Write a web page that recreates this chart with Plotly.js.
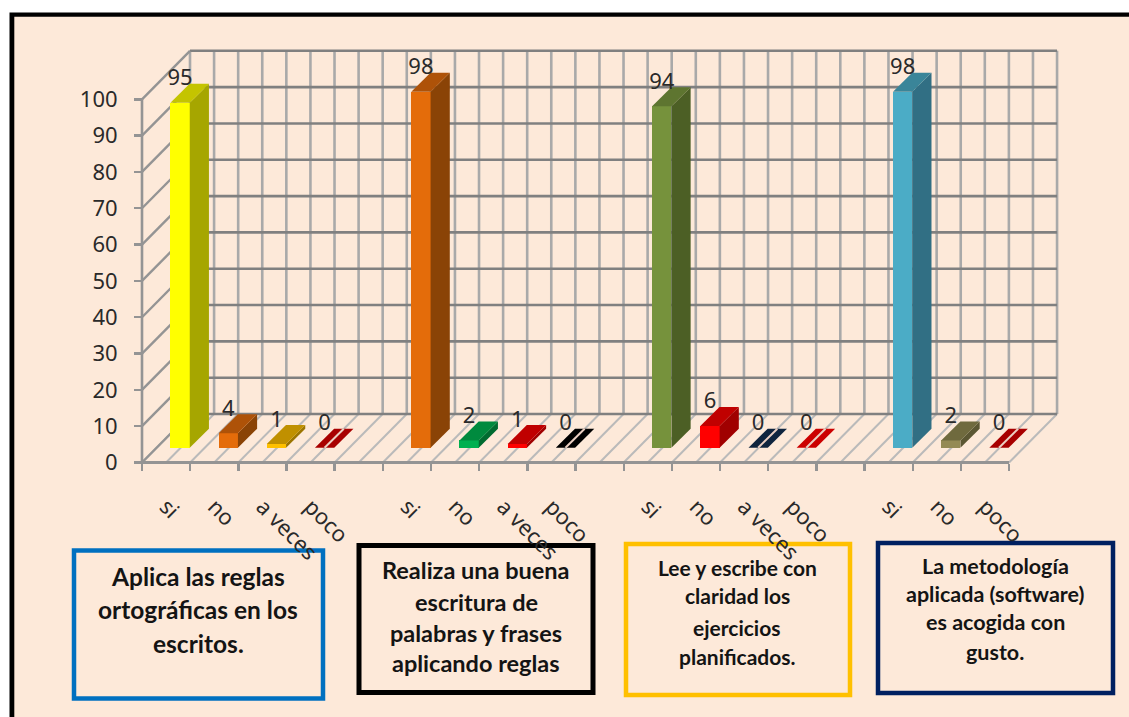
<!DOCTYPE html>
<html>
<head>
<meta charset="utf-8">
<script src="https://cdn.plot.ly/plotly-3.0.1.min.js"></script>
<style>html,body{margin:0;padding:0;background:#fff;overflow:hidden}#chart{width:1129px;height:717px}</style>
</head>
<body>
<div id="chart"></div>
<script>
// ---- data ----
const categories = ['si','no','a veces','poco','', 'si','no','a veces','poco','', 'si','no','a veces','poco','', 'si','no','poco'];
const values     = [95,4,1,0,null, 98,2,1,0,null, 94,6,0,0,null, 98,2,0];
const frontColors= ['#FFFF00','#E46C0A','#FFC000','#C00000',null,'#E46C0A','#00B050','#FF0000','#000000',null,'#76923C','#FF0000','#0F243E','#E00000',null,'#4BACC6','#948A54','#C00000'];
const topColors  = ['#C4C400','#AE5208','#C09000','#A80000',null,'#AE5208','#008A3E','#C00000','#000000',null,'#5E7530','#C00000','#0F243E','#CC0000',null,'#3A8599','#6F6A3E','#A80000'];
const sideColors = ['#A6A600','#8A4306','#9C7500','#900000',null,'#8A4306','#006B30','#A00000','#000000',null,'#4C5F25','#A00000','#0A1A2E','#A00000',null,'#316F84','#5B5733','#900000'];
const yTicks = [0,10,20,30,40,50,60,70,80,90,100];

const boxes = [
  {color:'#0070C0', w:4.5, x0:74,  x1:323,  y0:550.5, y1:698.5},
  {color:'#000000', w:5,   x0:359, x1:593,  y0:545.5, y1:692.5},
  {color:'#FFC000', w:4.5, x0:626, x1:850,  y0:544,   y1:695},
  {color:'#002060', w:4.5, x0:878, x1:1113, y0:543,   y1:693}
];
const boxLines = [
  {cx:198, size:24.5, lines:[['Aplica las reglas',576],['ortográficas en los',609],['escritos.',643]]},
  {cx:476, size:23.5, lines:[['Realiza una buena',570],['escritura de',602],['palabras y frases',633],['aplicando reglas',663]]},
  {cx:737, size:21,   lines:[['Lee y escribe con',567.5],['claridad los',595.5],['ejercicios',627.5],['planificados.',656.5]]},
  {cx:995, size:21.5, lines:[['La metodología',566],['aplicada (software)',594],['es acogida con',622],['gusto.',652]]}
];

// ---- layout geometry ----
const W=1129, H=717;
const originX=142, originY=462.5, catPx=48.17, unitPx=3.632;
const GRID_H='#808080', GRID_V='#A9A9A9', GRID_F='#BABABA', AXIS='#949494';
const NUM_FONT='Noto Sans';
const wallDX=48/catPx, wallDY=48.5/unitPx;     // wall depth, in axis units
const barDX=14/catPx, barDY=14.8/unitPx;       // bar front plane offset
const faceDX=19.2/catPx, faceDY=19/unitPx;     // bar depth
const barW=19.3/catPx;
const nCat=categories.length;
const px=v=>v/W, py=v=>1-v/H;

const shapes=[];
const seg=(x0,y0,x1,y1,color,width)=>shapes.push({type:'line',xref:'x',yref:'y',x0,y0,x1,y1,layer:'below',line:{color,width}});
// page frame
shapes.push({type:'rect',xref:'paper',yref:'paper',x0:px(9.5),x1:1,y0:0,y1:py(12.5),fillcolor:'#000',line:{width:0},layer:'below'});
shapes.push({type:'rect',xref:'paper',yref:'paper',x0:px(14.3),x1:1,y0:0,y1:py(16.7),fillcolor:'#FDE9D9',line:{width:0},layer:'below'});
// floor
for(let k=0;k<=nCat*2;k++){ seg(k/2,0,k/2+wallDX,wallDY,GRID_F,2); }
// back wall
for(let k=0;k<=nCat*2;k++){ seg(k/2+wallDX,wallDY,k/2+wallDX,100+wallDY,GRID_V,2.6); }
yTicks.forEach(t=>{
  seg(wallDX,t+wallDY,nCat+wallDX,t+wallDY,GRID_H,2.6);
  seg(0,t,wallDX,t+wallDY,AXIS,2.4);
});
seg(0,0,0,100,AXIS,2.6);
seg(0,0,nCat,0,AXIS,2.8);
// text boxes
boxes.forEach(b=>shapes.push({type:'rect',xref:'paper',yref:'paper',x0:px(b.x0),x1:px(b.x1),y0:py(b.y1),y1:py(b.y0),line:{color:b.color,width:b.w},fillcolor:'rgba(0,0,0,0)',layer:'below'}));

const annotations=[];
boxLines.forEach(b=>b.lines.forEach(([t,y])=>annotations.push({xref:'paper',yref:'paper',x:px(b.cx),y:py(y),xanchor:'center',yanchor:'middle',showarrow:false,text:t,font:{family:'Lato, Carlito, sans-serif',size:b.size,color:'#141414',weight:700}})));

// ---- traces ----
const idx=values.map((v,i)=>v===null?-1:i).filter(i=>i>=0);
const center=i=>i+0.5+barDX;
const traces=[];
traces.push({type:'bar',x:idx.map(center),y:idx.map(i=>values[i]),base:idx.map(()=>barDY),width:barW,
  marker:{color:idx.map(i=>frontColors[i]),line:{width:0}},hoverinfo:'skip',showlegend:false});
idx.forEach(i=>{
  const v=values[i], x0=center(i)-barW/2, x1=center(i)+barW/2, b=barDY, t=b+v;
  if(v>0) traces.push({type:'scatter',mode:'none',fill:'toself',fillcolor:sideColors[i],hoverinfo:'skip',showlegend:false,
    x:[x1,x1+faceDX,x1+faceDX,x1,x1],y:[b,b+faceDY,t+faceDY,t,b]});
  traces.push({type:'scatter',mode:'none',fill:'toself',fillcolor:topColors[i],hoverinfo:'skip',showlegend:false,
    x:[x0,x1,x1+faceDX,x0+faceDX,x0],y:[t,t,t+faceDY,t+faceDY,t]});
});
// floor grid line showing through the zero-height bars
idx.filter(i=>values[i]===0).forEach(i=>{
  traces.push({type:'scatter',mode:'lines',line:{color:'#EBCFC2',width:2},hoverinfo:'skip',showlegend:false,
    x:[center(i),center(i)+faceDX],y:[barDY,barDY+faceDY]});
});
// value labels
traces.push({type:'scatter',mode:'text',x:idx.map(center),y:idx.map(i=>values[i]+barDY+faceDY+4/unitPx),
  text:idx.map(i=>String(values[i])),textposition:'middle center',textfont:{family:NUM_FONT,size:22,color:'#2A2A2A'},hoverinfo:'skip',showlegend:false,cliponaxis:false});

const labelIdx=categories.map((c,i)=>c?i:-1).filter(i=>i>=0);
const layout={
  width:W,height:H,margin:{l:0,r:0,t:0,b:0},autosize:false,
  paper_bgcolor:'#FFFFFF',plot_bgcolor:'rgba(0,0,0,0)',showlegend:false,
  font:{family:NUM_FONT,size:22,color:'#2A2A2A'},
  xaxis:{range:[-originX/catPx,(W-originX)/catPx],anchor:'free',position:(H-originY)/H,domain:[0,1],
    tickmode:'array',tickvals:labelIdx.map(i=>i+0.5),ticktext:labelIdx.map(i=>categories[i]),tickangle:45,
    ticks:'',showgrid:false,zeroline:false,showline:false,ticklabelstandoff:26,
    tickfont:{family:NUM_FONT,size:22,color:'#2A2A2A'},
    minor:{tickmode:'array',tickvals:Array.from({length:nCat+1},(_,k)=>k),ticks:'outside',ticklen:7,tickwidth:2.4,tickcolor:AXIS,showgrid:false}},
  yaxis:{range:[(originY-H)/unitPx,originY/unitPx],anchor:'free',position:originX/W,domain:[0,1],
    tickmode:'array',tickvals:yTicks,ticktext:yTicks.map(String),ticks:'outside',ticklen:8,tickwidth:2.4,tickcolor:AXIS,
    showgrid:false,zeroline:false,showline:false,ticklabelstandoff:12,
    tickfont:{family:NUM_FONT,size:22,color:'#2A2A2A'}},
  shapes,annotations,bargap:0
};
Plotly.newPlot('chart',traces,layout,{displayModeBar:false,staticPlot:true});
</script>
</body>
</html>
